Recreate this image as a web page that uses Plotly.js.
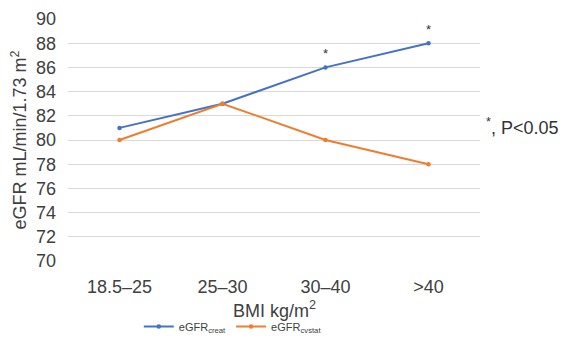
<!DOCTYPE html>
<html>
<head>
<meta charset="utf-8">
<script src="https://cdn.plot.ly/plotly-3.0.1.min.js"></script>
<style>html,body{margin:0;padding:0;background:#fff;}#chart{width:565px;height:342px;}</style>
</head>
<body>
<div id="chart"></div>
<script>
const categories = ["18.5–25", "25–30", "30–40", ">40"];
const eGFRcreat = [81, 83, 86, 88];
const eGFRcystat = [80, 83, 80, 78];
const yTicks = [70, 72, 74, 76, 78, 80, 82, 84, 86, 88, 90];
const sigCategories = ["30–40", ">40"];
const sigValues = [86, 88];
const xTitle = "BMI kg/m<sup>2</sup>";

const font = "Liberation Sans, Arial, sans-serif";
const traces = [
  {x: categories, y: eGFRcreat, name: "eGFR<sub>creat</sub>", type: "scatter", mode: "lines+markers",
   line: {color: "#4472C4", width: 2}, marker: {color: "#4472C4", size: 4.5}},
  {x: categories, y: eGFRcystat, name: "eGFR<sub>cvstat</sub>", type: "scatter", mode: "lines+markers",
   line: {color: "#ED7D31", width: 2}, marker: {color: "#ED7D31", size: 4.5}}
];
const annotations = sigCategories.map((c, i) => ({
  x: c, y: sigValues[i], xref: "x", yref: "y", text: "*", showarrow: false,
  yshift: 14, font: {family: font, size: 13, color: "#333"}
}));
annotations.push({xref: "paper", yref: "paper", x: 1.01, y: 0.555, xanchor: "left", yanchor: "middle",
  text: "<sup>*</sup>, P<0.05", showarrow: false, font: {family: font, size: 18, color: "#333"}});
annotations.push({xref: "paper", yref: "paper", x: 0.5, y: -0.2, xanchor: "center", yanchor: "middle",
  text: xTitle, showarrow: false, font: {family: font, size: 18, color: "#404040"}});

const layout = {
  width: 565, height: 342,
  margin: {l: 68, r: 85, t: 19, b: 81},
  paper_bgcolor: "#fff", plot_bgcolor: "#fff",
  font: {family: font, color: "#404040"},
  showlegend: true,
  legend: {orientation: "h", x: 0.40, xanchor: "center", yref: "container", y: 0.045, yanchor: "middle",
    font: {family: font, size: 11, color: "#404040"}, itemwidth: 30, tracegroupgap: 0},
  xaxis: {type: "category", range: [-0.5, 3.5], showgrid: false, zeroline: false, showline: false,
    automargin: false, ticks: "outside", ticklen: 9, tickcolor: "rgba(0,0,0,0)",
    tickfont: {family: font, size: 18, color: "#404040"}},
  yaxis: {range: [70, 90], tickvals: yTicks, showgrid: true, gridcolor: "#d9d9d9", gridwidth: 1,
    zeroline: false, showline: false, ticks: "", ticklabelstandoff: 11, tickfont: {family: font, size: 18, color: "#404040"},
    title: {text: "eGFR mL/min/1.73 m<sup>2</sup>", font: {family: font, size: 18, color: "#404040"}, standoff: 4}},
  annotations: annotations
};
Plotly.newPlot("chart", traces, layout, {displayModeBar: false, staticPlot: true});
</script>
</body>
</html>
